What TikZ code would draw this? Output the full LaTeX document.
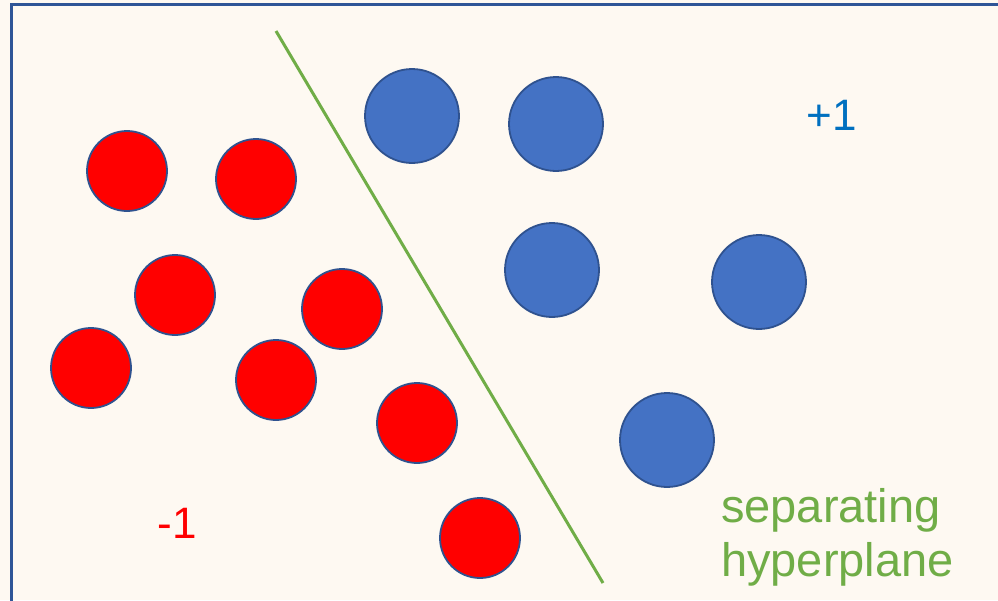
\documentclass[tikz,border=0pt]{standalone}
\usepackage{fontspec}
\setmainfont{Liberation Sans}
\definecolor{bgc}{HTML}{FEF9F2}
\definecolor{framec}{HTML}{2F5597}
\definecolor{edgec}{HTML}{2F528F}
\definecolor{bluec}{HTML}{4472C4}
\definecolor{plusc}{HTML}{0070C0}
\definecolor{greenc}{HTML}{70AD47}
\begin{document}
\begin{tikzpicture}[x=1pt,y=-1pt,
  redpt/.style={circle,draw=edgec,line width=1.8pt,fill=red,minimum size=80pt,inner sep=0pt},
  bluept/.style={circle,draw=edgec,line width=1.8pt,fill=bluec,minimum size=94pt,inner sep=0pt},
  lbl/.style={font=\fontsize{44}{52}\selectfont,inner sep=0pt}]
\useasboundingbox (0,0) rectangle (998,600);
\fill[bgc] (0,0) rectangle (998,600);
\draw[framec,line width=3pt] (11.5,640) -- (11.5,4.5) -- (1040,4.5);
\node[redpt] (r1) at (127,171) {};
\node[redpt] (r2) at (256,179) {};
\node[redpt] (r3) at (175,295) {};
\node[redpt] (r4) at (342,309) {};
\node[redpt] (r5) at (91,368) {};
\node[redpt] (r6) at (276,380) {};
\node[redpt] (r7) at (417,423) {};
\node[redpt] (r8) at (480,538) {};
\node[bluept] (b1) at (412,116) {};
\node[bluept] (b2) at (556,124) {};
\node[bluept] (b3) at (552,270) {};
\node[bluept] (b4) at (759,282) {};
\node[bluept] (b5) at (667,440) {};
\coordinate (h1) at (276,31);
\coordinate (h2) at (603,583);
\draw[greenc,line width=3pt] (h1) -- (h2);
\node[lbl,text=plusc] (plus) at (832,115) {+1};
\node[lbl,text=red] (minus) at (177,523) {-1};
\node[lbl,font=\fontsize{47}{54}\selectfont,text=greenc,align=left,anchor=west] (sep) at (721,537) {separating\\hyperplane};
\end{tikzpicture}
\end{document}
